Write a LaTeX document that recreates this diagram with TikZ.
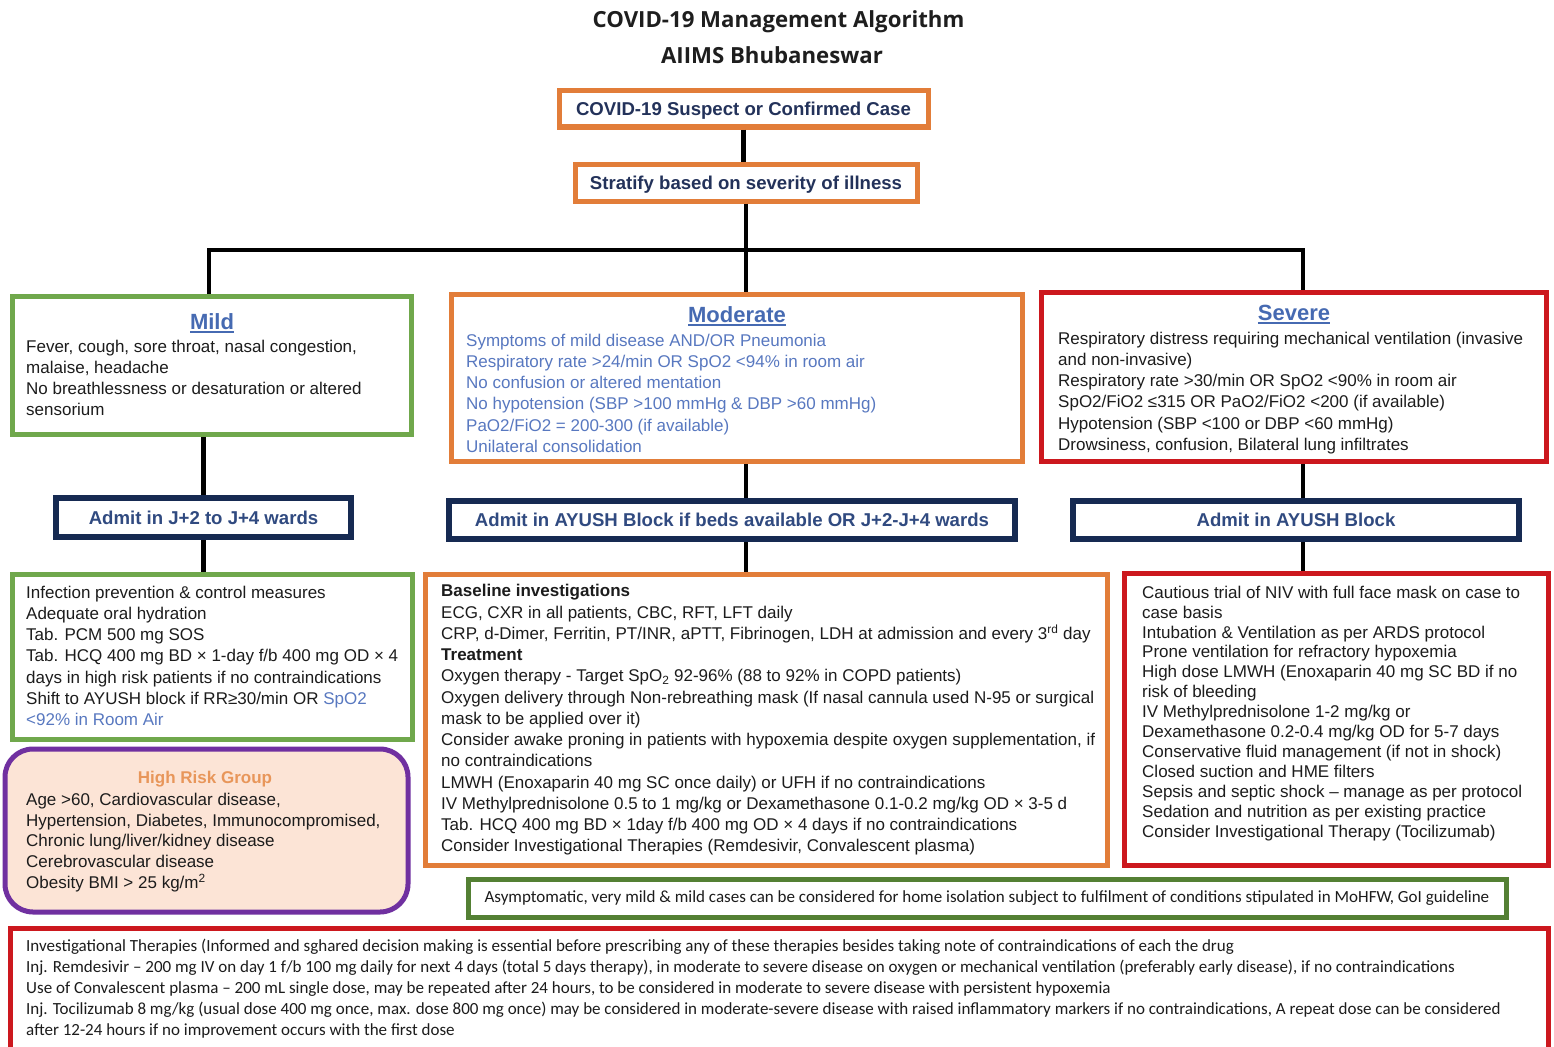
\documentclass[tikz,border=0pt]{standalone}
\usepackage{fontspec}
\setmainfont{Liberation Sans}
\newfontfamily\calfont{Carlito}
\newfontfamily\ttlfont{Open Sans}
\definecolor{corange}{RGB}{226,125,57}
\definecolor{cgreen}{RGB}{112,168,76}
\definecolor{cred}{RGB}{204,24,30}
\definecolor{cnavy}{RGB}{22,42,82}
\definecolor{cdgreen}{RGB}{84,128,52}
\definecolor{cpurple}{RGB}{112,48,160}
\definecolor{cpeach}{RGB}{252,228,214}
\definecolor{chead}{RGB}{70,106,178}
\definecolor{cblue}{RGB}{88,120,192}
\definecolor{ctitle}{RGB}{30,30,30}
\definecolor{cboxtxt}{RGB}{35,50,90}
\definecolor{cadmit}{RGB}{48,74,128}
\definecolor{chr}{RGB}{232,150,90}
\definecolor{cbody}{RGB}{28,28,28}
\newcommand\hdrul[1]{\setbox0\hbox{#1}\rlap{\raisebox{-3.5pt}{\rule{\wd0}{2pt}}}\box0}
\newcommand\bodyf{\fontsize{17}{21.2}\selectfont}
\newcommand\fstrut{\rule{0pt}{14pt}}
\begin{document}
\begin{tikzpicture}[x=1pt,y=-1pt,
  bx/.style={draw, line width=5pt, inner sep=0pt, fill=white},
  tb/.style={anchor=north west, inner sep=0pt, align=left, font=\bodyf, text=cbody},
  hd/.style={anchor=base, inner sep=0pt, font=\fontsize{22}{26}\selectfont\bfseries, text=chead},
  conn/.style={line width=4.5pt, black},
  lab/.style={font=\fontsize{18.6}{22}\selectfont\bfseries, text height=13.5pt, text depth=0pt}]
\useasboundingbox (0,0) rectangle (1554,1046);
\fill[white] (0,0) rectangle (1554,1046);

% titles
\node[anchor=base, inner sep=0pt, font=\ttlfont\bfseries\fontsize{22.2}{26}\selectfont, text=ctitle] (title1) at (778.5,28) {COVID-19 Management Algorithm};
\node[anchor=base, inner sep=0pt, font=\ttlfont\bfseries\fontsize{22.2}{26}\selectfont, text=ctitle] (title2) at (772,64) {AIIMS Bhubaneswar};

% top boxes
\node[bx, draw=corange, minimum width=369pt, minimum height=36pt, lab, text=cboxtxt] (suspect) at (743.5,109) {COVID-19 Suspect or Confirmed Case};
\node[bx, draw=corange, minimum width=342pt, minimum height=37pt, lab, text=cboxtxt] (stratify) at (746,182.5) {Stratify based on severity of illness};

% severity boxes
\node[bx, draw=cgreen, minimum width=399pt, minimum height=138pt] (mild) at (212,365.5) {};
\node[bx, draw=corange, minimum width=571pt, minimum height=167pt] (moderate) at (737,378) {};
\node[bx, draw=cred, minimum width=505pt, minimum height=169pt] (severe) at (1294,377) {};

% admit boxes
\node[bx, draw=cnavy, line width=6pt, minimum width=295pt, minimum height=39pt, lab, text=cadmit] (admitA) at (203.5,517.5) {Admit in J+2 to J+4 wards};
\node[bx, draw=cnavy, line width=6pt, minimum width=566pt, minimum height=38pt, lab, text=cadmit] (admitB) at (732,520) {Admit in AYUSH Block if beds available OR J+2-J+4 wards};
\node[bx, draw=cnavy, line width=6pt, minimum width=446pt, minimum height=38pt, lab, text=cadmit] (admitC) at (1296,520) {Admit in AYUSH Block};

% treatment boxes
\node[bx, draw=cgreen, minimum width=400pt, minimum height=165pt] (mildtx) at (212.5,657) {};
\node[bx, draw=cpurple, fill=cpeach, rounded corners=28pt, minimum width=403pt, minimum height=163pt] (highrisk) at (206.5,830.5) {};
\node[bx, draw=corange, minimum width=682pt, minimum height=291pt] (modtx) at (766.5,720) {};
\node[bx, draw=cred, minimum width=424pt, minimum height=292pt] (sevtx) at (1336.5,719.5) {};
\node[bx, draw=cdgreen, minimum width=1038pt, minimum height=38pt, font=\calfont\fontsize{17}{20}\selectfont, text=cbody] (home) at (987,898) {Asymptomatic, very mild \& mild cases can be considered for home isolation subject to fulfilment of conditions stipulated in MoHFW, GoI guideline};
\node[bx, draw=cred, minimum width=1538pt, minimum height=131pt] (invest) at (779.5,994) {};

% connectors
\coordinate (jl) at (209,250);
\coordinate (jr) at (1303,250);
\draw[conn] (suspect.south) -- (suspect.south |- stratify.north);
\draw[conn] (stratify.south) -- (stratify.south |- moderate.north);
\draw[conn] (jl |- mild.north) -- (jl) -- (jr) -- (jr |- severe.north);
\draw[conn] (admitA.north |- mild.south) -- (admitA.north);
\draw[conn] (admitA.south) -- (admitA.south |- mildtx.north);
\draw[conn] (stratify.south |- moderate.south) -- (stratify.south |- admitB.north);
\draw[conn] (stratify.south |- admitB.south) -- (stratify.south |- modtx.north);
\draw[conn] (jr |- severe.south) -- (jr |- admitC.north);
\draw[conn] (jr |- admitC.south) -- (jr |- sevtx.north);

% headings
\node[hd] (mildhd) at (212,329) {\hdrul{Mild}};
\node[hd] (modhd) at (737,322) {\hdrul{Moderate}};
\node[hd] (sevhd) at (1294,320) {\hdrul{Severe}};

% texts
\node[tb] (mildtext) at (26,338) {\fstrut Fever, cough, sore throat, nasal congestion,\\ malaise, headache\\ No breathlessness or desaturation or altered\\ sensorium};
\node[tb, text=cblue] (modtext) at (466,332) {\fstrut Symptoms of mild disease AND/OR Pneumonia\\ Respiratory rate >24/min OR SpO2 <94\% in room air\\ No confusion or altered mentation\\ No hypotension (SBP >100 mmHg \& DBP >60 mmHg)\\ PaO2/FiO2 = 200-300 (if available)\\ Unilateral consolidation};
\node[tb] (sevtext) at (1058,330) {\fstrut Respiratory distress requiring mechanical ventilation (invasive\\ and non-invasive)\\ Respiratory rate >30/min OR SpO2 <90\% in room air\\ SpO2/FiO2 ≤315 OR PaO2/FiO2 <200 (if available)\\ Hypotension (SBP <100 or DBP <60 mmHg)\\ Drowsiness, confusion, Bilateral lung infiltrates};

\node[tb] (mildtxt) at (26,584) {\fstrut Infection prevention \& control measures\\ Adequate oral hydration\\ Tab. PCM 500 mg SOS\\ Tab. HCQ 400 mg BD × 1-day f/b 400 mg OD × 4\\ days in high risk patients if no contraindications\\ Shift to AYUSH block if RR≥30/min OR \textcolor{cblue}{SpO2}\\ \textcolor{cblue}{<92\% in Room Air}};

\node[anchor=base, inner sep=0pt, font=\fontsize{17}{20}\selectfont\bfseries, text=chr] (hrhd) at (205,783) {High Risk Group};
\node[tb, font=\fontsize{17}{20.8}\selectfont] (hrtext) at (26,791) {\fstrut Age >60, Cardiovascular disease,\\ Hypertension, Diabetes, Immunocompromised,\\ Chronic lung/liver/kidney disease\\ Cerebrovascular disease\\ Obesity BMI > 25 kg/m\textsuperscript{2}};

\node[tb, font=\fontsize{17}{21.25}\selectfont] (modtxt) at (441,582.7) {\fstrut\textbf{Baseline investigations}\\ ECG, CXR in all patients, CBC, RFT, LFT daily\\ CRP, d-Dimer, Ferritin, PT/INR, aPTT, Fibrinogen, LDH at admission and every 3\textsuperscript{rd} day\\ \textbf{Treatment}\\ Oxygen therapy - Target SpO\textsubscript{2} 92-96\% (88 to 92\% in COPD patients)\\ Oxygen delivery through Non-rebreathing mask (If nasal cannula used N-95 or surgical\\ mask to be applied over it)\\ Consider awake proning in patients with hypoxemia despite oxygen supplementation, if\\ no contraindications\\ LMWH (Enoxaparin 40 mg SC once daily) or UFH if no contraindications\\ IV Methylprednisolone 0.5 to 1 mg/kg or Dexamethasone 0.1-0.2 mg/kg OD × 3-5 d\\ Tab. HCQ 400 mg BD × 1day f/b 400 mg OD × 4 days if no contraindications\\ Consider Investigational Therapies (Remdesivir, Convalescent plasma)};

\node[tb, font=\fontsize{17}{19.9}\selectfont] (sevtxt) at (1142,584) {\fstrut Cautious trial of NIV with full face mask on case to\\ case basis\\ Intubation \& Ventilation as per ARDS protocol\\ Prone ventilation for refractory hypoxemia\\ High dose LMWH (Enoxaparin 40 mg SC BD if no\\ risk of bleeding\\ IV Methylprednisolone 1-2 mg/kg or\\ Dexamethasone 0.2-0.4 mg/kg OD for 5-7 days\\ Conservative fluid management (if not in shock)\\ Closed suction and HME filters\\ Sepsis and septic shock – manage as per protocol\\ Sedation and nutrition as per existing practice\\ Consider Investigational Therapy (Tocilizumab)};

\node[tb, font=\calfont\fontsize{17}{21}\selectfont] (investtxt) at (26,937) {\fstrut Investigational Therapies (Informed and sghared decision making is essential before prescribing any of these therapies besides taking note of contraindications of each the drug\\ Inj. Remdesivir – 200 mg IV on day 1 f/b 100 mg daily for next 4 days (total 5 days therapy), in moderate to severe disease on oxygen or mechanical ventilation (preferably early disease), if no contraindications\\ Use of Convalescent plasma – 200 mL single dose, may be repeated after 24 hours, to be considered in moderate to severe disease with persistent hypoxemia\\ Inj. Tocilizumab 8 mg/kg (usual dose 400 mg once, max. dose 800 mg once) may be considered in moderate-severe disease with raised inflammatory markers if no contraindications, A repeat dose can be considered\\ after 12-24 hours if no improvement occurs with the first dose};
\end{tikzpicture}
\end{document}
